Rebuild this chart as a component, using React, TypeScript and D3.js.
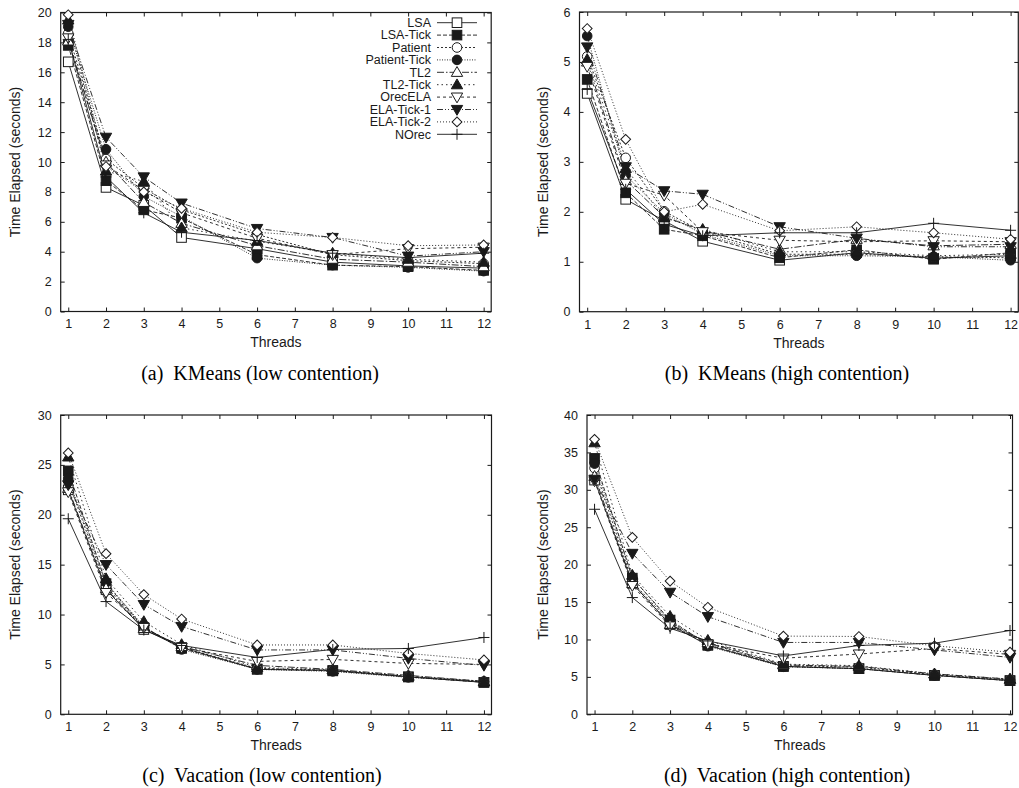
import React, { useEffect, useRef } from "react";
import * as d3 from "d3";

// x values (threads) and series, same order in every panel
const threads = [1, 2, 3, 4, 6, 8, 10, 12];
const xTicks = [1, 2, 3, 4, 5, 6, 7, 8, 9, 10, 11, 12];
const seriesNames = ["LSA", "LSA-Tick", "Patient", "Patient-Tick", "TL2", "TL2-Tick", "OrecELA", "ELA-Tick-1", "ELA-Tick-2", "NOrec"];

// (a) KMeans low contention, one row per series
const kmeansLow = [
  [16.7, 8.3, 7.1, 4.95, 4.2, 3.3, 3.05, 2.9],
  [17.8, 8.75, 6.8, 6.25, 3.8, 3.1, 3.0, 2.75],
  [18.6, 10.2, 8.25, 6.8, 5.15, 3.8, 3.4, 3.2],
  [19.05, 10.85, 7.7, 6.35, 3.57, 3.1, 2.95, 2.7],
  [18.1, 10.0, 7.3, 5.9, 4.4, 3.5, 3.3, 3.0],
  [19.5, 9.4, 8.7, 5.6, 4.7, 3.9, 3.5, 3.3],
  [18.3, 9.8, 8.1, 6.6, 4.9, 3.8, 4.2, 4.3],
  [19.2, 11.65, 9.0, 7.25, 5.55, 4.95, 3.7, 4.0],
  [19.85, 9.7, 8.0, 6.9, 5.3, 4.95, 4.4, 4.45],
  [18.2, 9.0, 6.6, 5.3, 4.75, 3.9, 3.6, 3.9],
];

// (b) KMeans high contention
const kmeansHigh = [
  [4.37, 2.25, 1.82, 1.41, 1.03, 1.18, 1.07, 1.12],
  [4.65, 2.38, 1.65, 1.52, 1.08, 1.24, 1.05, 1.18],
  [5.11, 3.08, 2.01, 1.6, 1.15, 1.15, 1.1, 1.08],
  [5.52, 2.73, 1.97, 1.55, 1.12, 1.12, 1.1, 1.03],
  [5.0, 2.63, 1.9, 1.62, 1.25, 1.45, 1.32, 1.35],
  [5.05, 2.87, 1.88, 1.65, 1.2, 1.2, 1.12, 1.15],
  [4.91, 2.57, 2.33, 1.6, 1.43, 1.4, 1.42, 1.4],
  [5.3, 2.9, 2.42, 2.35, 1.7, 1.47, 1.3, 1.3],
  [5.67, 3.45, 2.0, 2.15, 1.62, 1.7, 1.58, 1.45],
  [4.45, 2.45, 1.75, 1.52, 1.58, 1.58, 1.77, 1.63],
];

// (c) Vacation low contention
const vacationLow = [
  [22.5, 12.5, 8.5, 6.7, 4.5, 4.4, 3.75, 3.2],
  [24.4, 13.1, 8.7, 6.6, 4.55, 4.35, 3.75, 3.2],
  [23.4, 12.8, 8.7, 6.7, 4.6, 4.4, 3.8, 3.3],
  [23.65, 13.2, 8.8, 6.5, 4.5, 4.3, 3.7, 3.25],
  [22.65, 12.6, 8.6, 6.8, 4.9, 4.5, 3.9, 3.3],
  [25.8, 13.6, 9.3, 7.0, 4.7, 4.45, 3.8, 3.25],
  [22.3, 12.2, 8.7, 6.7, 5.3, 5.5, 5.1, 5.0],
  [23.0, 15.0, 11.0, 8.8, 6.45, 6.45, 5.6, 4.9],
  [26.2, 16.1, 12.0, 9.55, 6.95, 6.95, 6.1, 5.45],
  [19.6, 11.3, 8.45, 6.9, 5.7, 6.5, 6.6, 7.7],
];

// (d) Vacation high contention
const vacationHigh = [
  [31.3, 17.5, 12.0, 9.2, 6.4, 6.1, 5.2, 4.5],
  [34.2, 18.2, 12.6, 9.3, 6.4, 6.1, 5.2, 4.5],
  [32.9, 17.7, 12.3, 9.5, 6.5, 6.3, 5.3, 4.6],
  [33.5, 18.3, 12.4, 9.1, 6.35, 6.1, 5.2, 4.5],
  [31.8, 17.5, 12.0, 9.6, 6.6, 6.4, 5.4, 4.7],
  [36.3, 18.6, 13.1, 9.9, 6.7, 6.5, 5.4, 4.7],
  [31.2, 17.2, 11.8, 9.4, 7.5, 8.05, 8.8, 8.0],
  [31.4, 21.5, 16.3, 13.05, 9.6, 9.6, 8.6, 7.6],
  [36.75, 23.65, 17.8, 14.3, 10.45, 10.4, 9.15, 8.3],
  [27.4, 15.6, 11.5, 9.8, 7.8, 9.2, 9.5, 11.2],
];

const dashes = ["", "4,2", "2,2", "1,1.5", "7,2,1.5,2", "1.5,3", "3,3", "6,2,1,2,1,2", "1,2", ""];
const filled = [false, true, false, true, false, true, false, true, false, false];

const panels = [
  { data: kmeansLow, yMax: 20, yStep: 2, caption: "(a)  KMeans (low contention)", left: 60.7, right: 491.2, top: 12.5, bottom: 311.5, xMax: 12.2, ylabX: 15, capX: 260, legend: true },
  { data: kmeansHigh, yMax: 6, yStep: 1, caption: "(b)  KMeans (high contention)", left: 579.5, right: 1018.3, top: 12, bottom: 311.7, xMax: 12.2, ylabX: 543, capX: 787, legend: false },
  { data: vacationLow, yMax: 30, yStep: 5, caption: "(c)  Vacation (low contention)", left: 60.7, right: 491.5, top: 415, bottom: 714.3, xMax: 12.2, ylabX: 15, capX: 262, legend: false },
  { data: vacationHigh, yMax: 40, yStep: 5, caption: "(d)  Vacation (high contention)", left: 587, right: 1012.5, top: 415, bottom: 714.3, xMax: 12.066, ylabX: 543, capX: 787, legend: false },
];

const INK = "#1a1a1a";

function drawMarker(g, i, x, y) {
  const s = 4.8;
  const fill = filled[i] ? INK : "white";
  const name = seriesNames[i];
  if (name.startsWith("LSA")) {
    g.append("rect").attr("x", x - s).attr("y", y - s).attr("width", 2 * s).attr("height", 2 * s)
      .attr("fill", fill).attr("stroke", INK).attr("stroke-width", 1);
  } else if (name.startsWith("Patient")) {
    g.append("circle").attr("cx", x).attr("cy", y).attr("r", s)
      .attr("fill", fill).attr("stroke", INK).attr("stroke-width", 1);
  } else if (name.startsWith("TL2")) {
    g.append("path").attr("d", d3.symbol(d3.symbolTriangle, 56)()).attr("transform", `translate(${x},${y + 0.8})`)
      .attr("fill", fill).attr("stroke", INK).attr("stroke-width", 1);
  } else if (name === "OrecELA" || name === "ELA-Tick-1") {
    g.append("path").attr("d", d3.symbol(d3.symbolTriangle, 56)()).attr("transform", `translate(${x},${y - 0.8}) rotate(180)`)
      .attr("fill", fill).attr("stroke", INK).attr("stroke-width", 1);
  } else if (name === "ELA-Tick-2") {
    g.append("path").attr("d", d3.symbol(d3.symbolSquare, 48)()).attr("transform", `translate(${x},${y}) rotate(45)`)
      .attr("fill", "white").attr("stroke", INK).attr("stroke-width", 1);
  } else {
    const p = d3.path();
    p.moveTo(x - 5.5, y); p.lineTo(x + 5.5, y);
    p.moveTo(x, y - 5.5); p.lineTo(x, y + 5.5);
    g.append("path").attr("d", p.toString()).attr("fill", "none").attr("stroke", INK).attr("stroke-width", 1);
  }
}

export default function App() {
  const ref = useRef(null);

  useEffect(() => {
    const svg = d3.select(ref.current);
    svg.selectAll("*").remove();

    panels.forEach((p) => {
      const g = svg.append("g").style("font-family", "'Liberation Sans', Arial, sans-serif");
      const x = d3.scaleLinear().domain([0.8, p.xMax]).range([p.left, p.right]);
      const y = d3.scaleLinear().domain([0, p.yMax]).range([p.bottom, p.top]);
      const yTicks = d3.range(0, p.yMax + 0.001, p.yStep);

      const fmt = (v) => `${v}`;
      g.append("g").attr("transform", `translate(0,${p.bottom})`)
        .call(d3.axisBottom(x).tickValues(xTicks).tickSize(-4).tickPadding(8).tickFormat(fmt));
      g.append("g").attr("transform", `translate(0,${p.top})`)
        .call(d3.axisTop(x).tickValues(xTicks).tickSize(-4).tickFormat(() => ""));
      g.append("g").attr("transform", `translate(${p.left},0)`)
        .call(d3.axisLeft(y).tickValues(yTicks).tickSize(-4).tickPadding(9).tickFormat(fmt));
      g.append("g").attr("transform", `translate(${p.right},0)`)
        .call(d3.axisRight(y).tickValues(yTicks).tickSize(-4).tickFormat(() => ""));
      g.selectAll(".domain").remove();
      g.selectAll(".tick line").attr("stroke", INK);
      g.selectAll(".tick text").attr("fill", INK).style("font-size", "12.5px").style("font-family", "'Liberation Sans', Arial, sans-serif");

      g.append("rect").attr("x", p.left).attr("y", p.top).attr("width", p.right - p.left).attr("height", p.bottom - p.top)
        .attr("fill", "none").attr("stroke", INK).attr("stroke-width", 1.2);

      // series lines, then markers
      const line = d3.line().x((d) => x(d[0])).y((d) => y(d[1]));
      p.data.forEach((vals, i) => {
        const pts = threads.map((t, k) => [t, vals[k]]);
        g.append("path").attr("d", line(pts)).attr("fill", "none").attr("stroke", INK)
          .attr("stroke-width", 0.9).attr("stroke-dasharray", dashes[i]);
      });
      p.data.forEach((vals, i) => {
        threads.forEach((t, k) => drawMarker(g, i, x(t), y(vals[k])));
      });

      g.append("text").attr("x", (p.left + p.right) / 2).attr("y", p.bottom + 31).attr("dy", "0.35em")
        .attr("text-anchor", "middle").style("font-size", "14px").attr("fill", INK).text("Threads");
      g.append("text").attr("transform", `translate(${p.ylabX},${(p.top + p.bottom) / 2}) rotate(-90)`).attr("dy", "0.35em")
        .attr("text-anchor", "middle").style("font-size", "14px").attr("fill", INK).text("Time Elapsed (seconds)");
      g.append("text").attr("x", p.capX).attr("y", p.bottom + 61).attr("dy", "0.35em")
        .attr("text-anchor", "middle").style("font-family", "'Liberation Serif', 'Times New Roman', serif")
        .style("font-size", "20px").attr("fill", "#000").attr("xml:space", "preserve").style("white-space", "pre").text(p.caption);

      if (p.legend) {
        seriesNames.forEach((name, i) => {
          const ly = 22.7 + i * 12.4;
          g.append("text").attr("x", 431).attr("y", ly).attr("dy", "0.35em").attr("text-anchor", "end")
            .style("font-size", "12.5px").attr("fill", INK).text(name);
          g.append("line").attr("x1", 437).attr("x2", 477).attr("y1", ly).attr("y2", ly)
            .attr("stroke", INK).attr("stroke-width", 0.9).attr("stroke-dasharray", dashes[i]);
          drawMarker(g, i, 457, ly);
        });
      }
    });
  }, []);

  return (
    <svg ref={ref} width={1019} height={788} style={{ position: "absolute", left: 0, top: 0, background: "white" }} />
  );
}
